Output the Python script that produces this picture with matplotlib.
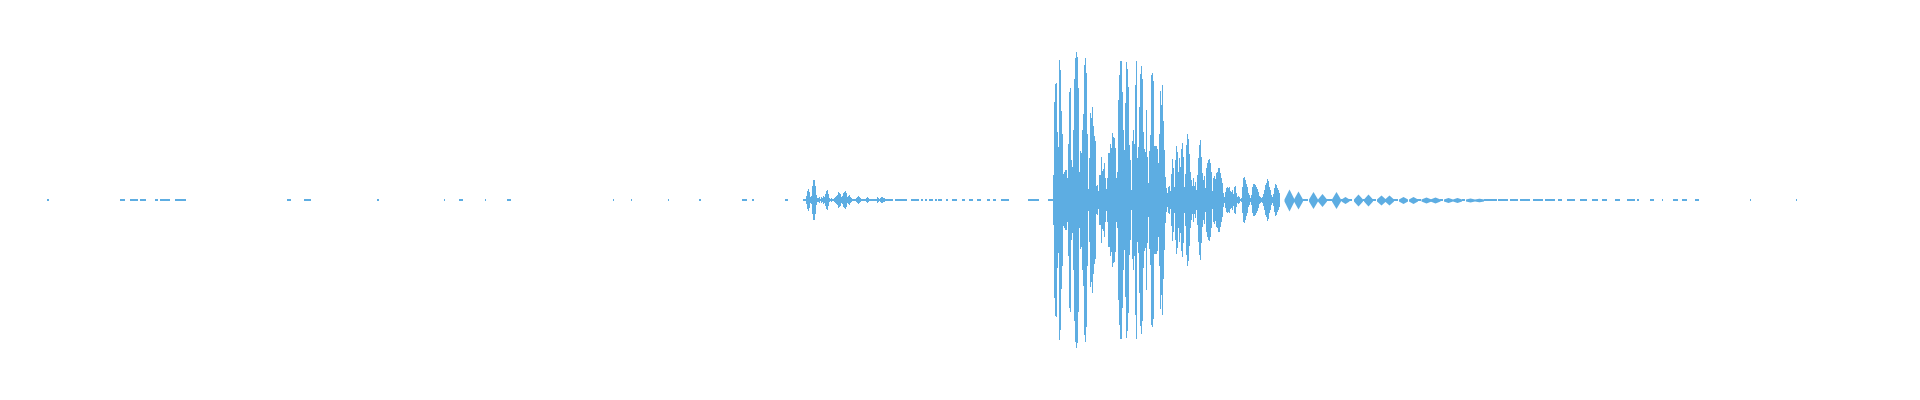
import numpy as np
import matplotlib
matplotlib.use("Agg")
import matplotlib.pyplot as plt

WAVE_COLOR = "#5dade2"

# low-level noise: (start, end) of near-silent stretches, amplitude ~1
quiet_start = [47, 120, 130, 140, 155, 160, 175, 287, 304, 377, 444, 459, 485, 507, 613, 631,
               668, 699, 742, 752, 785,
               895, 905, 911, 921, 925, 929, 935, 938, 946, 952, 962, 969, 977, 987, 993, 1001, 1028,
               1303, 1326, 1341, 1363, 1372, 1393, 1417, 1440, 1462, 1484,
               1487, 1498, 1510, 1520, 1533, 1545, 1558, 1567, 1580, 1592, 1602, 1615, 1627, 1637,
               1650, 1662, 1673, 1682, 1695, 1750, 1796]
quiet_end = [49, 125, 138, 146, 158, 170, 186, 291, 311, 379, 445, 463, 486, 511, 614, 632,
             669, 701, 747, 754, 788,
             905, 907, 919, 923, 927, 933, 937, 942, 948, 957, 965, 973, 981, 990, 996, 1009, 1039,
             1308, 1332, 1352, 1365, 1376, 1398, 1421, 1443, 1465, 1487,
             1497, 1508, 1518, 1530, 1543, 1555, 1562, 1575, 1587, 1598, 1607, 1620, 1635, 1639,
             1654, 1663, 1678, 1687, 1699, 1751, 1797]

# first small burst, one amplitude per sample column
burst1_start = 803
burst1_amp = [1, 1, 1, 4, 9, 11, 8, 3, 4, 14, 20, 20, 14, 5, 2, 2, 3, 1, 3, 2,
              4, 3, 6, 9, 10, 6, 2, 1, 2, 1, 1, 2, 3, 4, 5, 8, 7, 6, 3, 4,
              7, 8, 9, 7, 3, 4, 5, 3, 2, 1, 1, 1, 1, 2, 3, 4, 3, 2, 1, 1,
              1, 1, 1, 2, 3, 2, 1, 1, 1, 1, 1, 1, 1, 1, 3, 2, 1, 2, 3, 3,
              2, 2, 1, 1, 1, 1, 1, 1, 1, 1]

# main hit
burst2_start = 1048
burst2_amp = [1, 1, 1, 1, 1,
              25, 98, 116, 117, 68, 53, 140, 130, 89, 66, 26, 28, 30, 30, 22,
              56, 108, 112, 40, 33, 70, 121, 142, 148, 143, 112, 28, 49, 47, 70,
              86, 135, 142, 127, 66, 11, 42, 87, 82, 93, 74, 64, 59, 14, 15,
              9, 25, 25, 43, 29, 31, 37, 22, 11, 22, 47, 47, 56, 52, 67,
              63, 62, 52, 22, 28, 100, 125, 139, 139, 108, 70, 50, 97, 138, 131,
              113, 55, 40, 10, 59, 70, 56, 115, 139, 42, 53, 93, 126, 134, 121,
              68, 51, 48, 90, 43, 17, 49, 65, 125, 127, 119, 54, 54, 54, 51,
              37, 66, 109, 95, 115, 79, 50, 23, 12, 7, 13, 14, 9, 26, 41,
              32, 13, 40, 54, 48, 28, 42, 33, 51, 57, 43, 13, 26, 55, 66,
              61, 46, 28, 20, 14, 22, 14, 18, 10, 25, 42, 55, 60, 43, 27,
              20, 24, 12, 32, 37, 40, 41, 37, 28, 9, 22, 24, 21, 27, 28,
              32, 32, 27, 22, 17, 7, 3, 8, 12, 13, 12, 13, 9, 8, 10,
              6, 13, 14, 7, 3, 4, 3, 1, 2, 13, 22, 23, 20, 16, 13,
              7, 5, 2, 5, 13, 16, 16, 15, 13, 11, 8, 4, 3, 2, 3,
              6, 10, 15, 17, 21, 19, 13, 10, 5, 3, 6, 12, 16, 15, 12,
              10, 7]

# decaying tail pulses: centre, peak amplitude, half width
pulse_center = [1289, 1298, 1313, 1322, 1336, 1345, 1358, 1368, 1381, 1389,
                1403, 1413, 1426, 1435, 1448, 1457, 1470, 1479]
pulse_amp = [11, 9, 8.5, 6.5, 8.5, 3.5, 6, 6, 5, 5, 3.5, 3.5, 3, 3, 2.5, 2.5, 2, 1.8]
pulse_half = [5, 4.5, 4.5, 4.5, 4.5, 4, 4.5, 4.5, 4.5, 4.5, 4.5, 4.5, 5, 5, 4.5, 4.5, 4.5, 4.5]

fig = plt.figure(figsize=(19.2, 4), dpi=100)
ax = fig.add_axes([0, 0, 1, 1])

qs = np.array(quiet_start)
qe = np.array(quiet_end)
ax.bar(qs, 2, width=qe - qs, bottom=-1, align="edge", color=WAVE_COLOR, linewidth=0)

for start, amp in [(burst1_start, burst1_amp), (burst2_start, burst2_amp)]:
    amp = np.array(amp, dtype=float)
    x = start + np.arange(len(amp))
    ax.bar(x, 2 * amp, width=1, bottom=-amp, align="edge", color=WAVE_COLOR, linewidth=0)

for c, a, h in zip(pulse_center, pulse_amp, pulse_half):
    px = [c - h, c, c + h]
    py = np.array([1, a, 1])
    ax.fill_between(px, -py, py, color=WAVE_COLOR, linewidth=0)

ax.set_xlim(0, 1920)
ax.set_ylim(-200, 200)
ax.axis("off")

fig.savefig("out.png", dpi=100, facecolor="white")
